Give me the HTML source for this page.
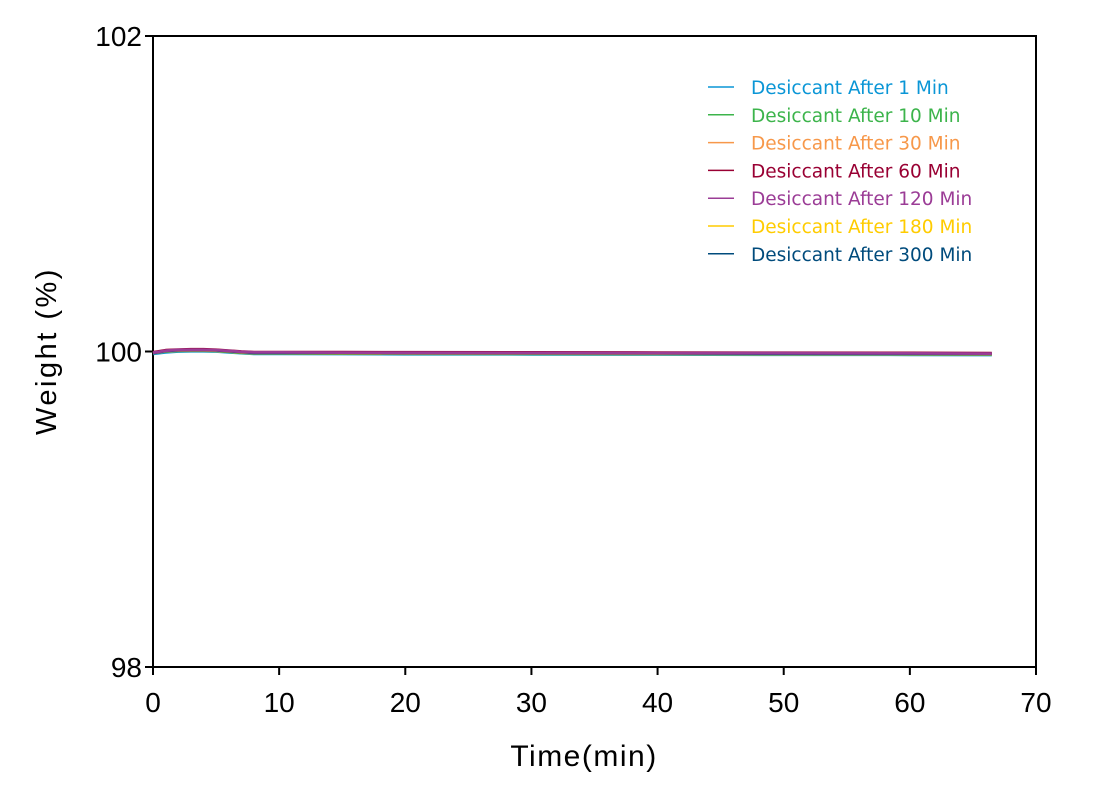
<!DOCTYPE html>
<html><head><meta charset="utf-8"><style>
body{margin:0;background:#fff;}
svg text{font-family:"Liberation Sans",sans-serif;}
svg text.leg{font-family:"DejaVu Sans",sans-serif;}
</style></head><body>
<svg id="chart" width="1101" height="801" xmlns="http://www.w3.org/2000/svg">
<rect x="153" y="36" width="883" height="631" fill="none" stroke="#000" stroke-width="2"/>
<g id="xticks"></g><g id="yticks"></g><g id="series"></g><g id="legend"></g>
<text x="584" y="766" font-size="30" letter-spacing="1.5" text-anchor="middle">Time(min)</text>
<text transform="translate(56,351) rotate(-90)" font-size="29" letter-spacing="2.5" text-anchor="middle">Weight (%)</text>
</svg>
<script>
const xTicks=[0,10,20,30,40,50,60,70];
const yTicks=[98,100,102];
const times=[0,1,2,3,4,5,6,7,8,10,15,20,30,40,50,60,66.5];
const seriesNames=["Desiccant After 1 Min","Desiccant After 10 Min","Desiccant After 30 Min","Desiccant After 60 Min","Desiccant After 120 Min","Desiccant After 180 Min","Desiccant After 300 Min"];
const seriesColors=["#0a96d6","#3cb44b","#f7984a","#990033","#9b3c96","#ffcc00","#004b7c"];
const w1=[99.985,99.995,100.0,100.002,100.002,100.0,99.995,99.99,99.985,99.985,99.984,99.983,99.982,99.981,99.98,99.979,99.978];
const w10=[99.99,100.0,100.004,100.005,100.005,100.003,99.998,99.992,99.988,99.988,99.987,99.986,99.985,99.984,99.983,99.982,99.981];
const w30=[99.99,100.002,100.006,100.007,100.007,100.005,100.0,99.994,99.99,99.99,99.989,99.988,99.987,99.986,99.985,99.984,99.983];
const w60=[99.995,100.008,100.012,100.014,100.014,100.011,100.006,100.0,99.996,99.996,99.996,99.995,99.994,99.993,99.992,99.991,99.99];
const w120=[99.992,100.005,100.01,100.011,100.011,100.009,100.004,99.998,99.994,99.994,99.993,99.992,99.991,99.99,99.989,99.988,99.987];
const w180=[99.99,100.003,100.007,100.008,100.008,100.006,100.001,99.995,99.991,99.991,99.99,99.989,99.988,99.987,99.986,99.985,99.984];
const w300=[99.99,100.003,100.008,100.009,100.009,100.007,100.002,99.996,99.992,99.992,99.991,99.99,99.989,99.988,99.987,99.986,99.985];
const allSeries=[w1,w10,w30,w60,w120,w180,w300];
const drawOrder=[0,1,2,5,6,3,4];
const NS="http://www.w3.org/2000/svg";
const X=v=>153+(v-0)/70*883;
const Y=v=>667-(v-98)/4*631;
function mk(tag,attrs,parent){const e=document.createElementNS(NS,tag);for(const k in attrs)e.setAttribute(k,attrs[k]);parent.appendChild(e);return e;}
const gx=document.getElementById('xticks');
xTicks.forEach(t=>{
 const l=mk('line',{x1:X(t),x2:X(t),y1:667,y2:675,stroke:'#000','stroke-width':2},gx);
 
 
 const tx=mk('text',{x:X(t),y:712,'font-size':28,'text-anchor':'middle'},gx);
 tx.textContent=t;
 
 
});
const gy=document.getElementById('yticks');
yTicks.forEach(t=>{
 const l=mk('line',{x1:145,x2:153,y1:Y(t),y2:Y(t),stroke:'#000','stroke-width':2},gy);
 
 
 const tx=mk('text',{x:142,y:Y(t)+10,'font-size':28,'text-anchor':'end'},gy);
 tx.textContent=t;
 
 
});
const gs=document.getElementById('series');
drawOrder.forEach(i=>{
 const s=allSeries[i];
 const d=s.map((v,j)=>(j?'L':'M')+X(times[j]).toFixed(1)+','+Y(v).toFixed(1)).join(' ');
 const p=mk('path',{d:d,fill:'none',stroke:seriesColors[i],'stroke-width':2.8,'stroke-linejoin':'round'},gs);
 
 
});
const gl=document.getElementById('legend');
seriesNames.forEach((n,i)=>{
 const y=87+i*27.8;
 const l=mk('line',{x1:708,x2:734,y1:y,y2:y,stroke:seriesColors[i],'stroke-width':1.5},gl);
 
 
 const tx=mk('text',{x:751,y:y+7,'font-size':18.5,fill:seriesColors[i],'class':'leg'},gl);
 tx.textContent=n;
 
 
});
</script>
</body></html>
